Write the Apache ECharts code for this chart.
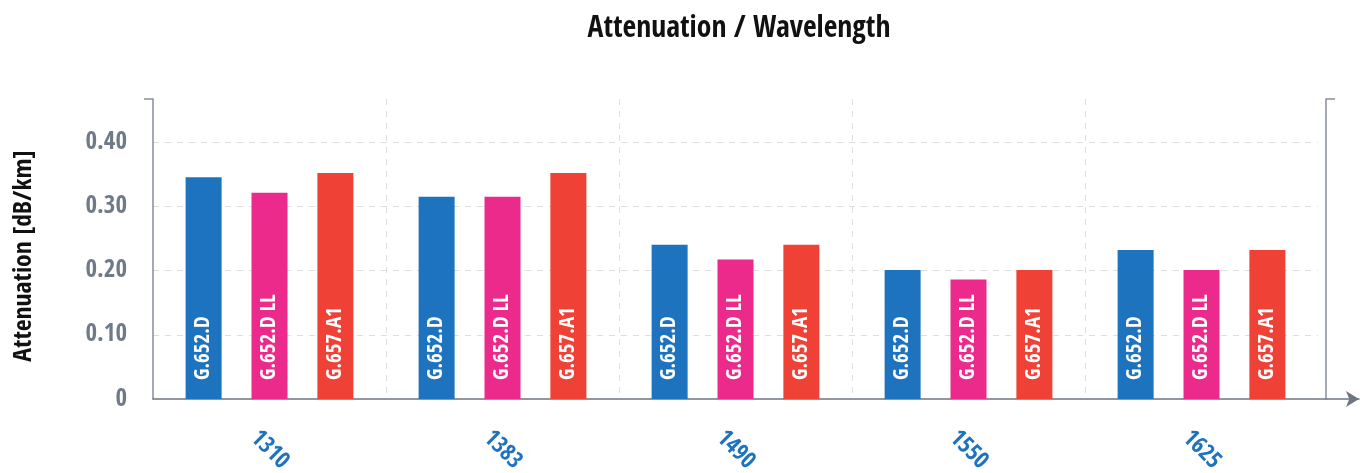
<!DOCTYPE html>
<html>
<head>
<meta charset="utf-8">
<script src="https://cdn.jsdelivr.net/npm/echarts@6/dist/echarts.min.js"></script>
<style>html,body{margin:0;padding:0;background:#fff}#c{width:1371px;height:473px}</style>
</head>
<body>
<div id="c"></div>
<script>
var categories = ['1310', '1383', '1490', '1550', '1625'];
var seriesNames = ['G.652.D', 'G.652.D LL', 'G.657.A1'];
var g652d = [0.345, 0.315, 0.240, 0.201, 0.232];
var g652dll = [0.321, 0.315, 0.217, 0.186, 0.201];
var g657a1 = [0.352, 0.352, 0.240, 0.201, 0.232];
var yTicks = [0, 0.1, 0.2, 0.3, 0.4];
var yMax = 0.467;

var FONT = "'Open Sans Condensed', 'DejaVu Sans Condensed', sans-serif";
var colors = ['#1e73be', '#ec2a8b', '#ef4136'];
var seriesData = [g652d, g652dll, g657a1];
var axisGray = '#868e97';
var dash = {type: [6, 6], color: '#dedede', width: 1};

var chart = echarts.init(document.getElementById('c'));
chart.setOption({
  animation: false,
  title: {
    text: 'Attenuation / Wavelength',
    left: 734, top: 9, textAlign: 'center',
    textStyle: {fontFamily: FONT, fontWeight: 'bold', fontSize: 29.6, color: '#111'}
  },
  grid: [
    {left: 153, right: 53, top: 99, bottom: 74, outerBoundsMode: 'none'},
    {left: 153, right: 12, top: 99, bottom: 74, outerBoundsMode: 'none'}
  ],
  xAxis: [
    {
      type: 'category', gridIndex: 0, data: categories, boundaryGap: true,
      axisLine: {show: false},
      axisTick: {show: false},
      splitLine: {show: true, showMinLine: false, showMaxLine: false, interval: 0, lineStyle: dash},
      axisLabel: {rotate: -45, align: 'center', verticalAlign: 'middle', margin: 51,
        fontFamily: FONT, fontWeight: 'bold', fontSize: 23.5, color: '#1e73be', interval: 0}
    },
    {
      type: 'value', gridIndex: 1, min: 0, max: 1,
      axisLine: {show: true, symbol: ['none', 'arrow'], symbolSize: [12, 13],
        lineStyle: {color: '#6c7580', width: 1.5}},
      axisTick: {show: false}, axisLabel: {show: false}, splitLine: {show: false}
    }
  ],
  yAxis: [
    {
      type: 'value', gridIndex: 0, position: 'left', min: 0, max: yMax, interval: 0.1,
      name: 'Attenuation [dB/km]', nameLocation: 'middle', nameGap: 116, nameRotate: 90,
      nameTextStyle: {fontFamily: FONT, fontWeight: 'bold', fontSize: 25.7, color: '#111', padding: [0, 14, 0, 0]},
      axisLine: {show: true, lineStyle: {color: axisGray, width: 1.5}},
      axisTick: {show: false},
      splitLine: {show: true, showMaxLine: false, showMinLine: false, lineStyle: dash},
      axisLabel: {customValues: yTicks, margin: 26, padding: [4, 0, 0, 0], fontFamily: FONT, fontWeight: 'bold', fontSize: 25, color: '#6e7a87',
        formatter: function (v) { return v === 0 ? '0' : v.toFixed(2); }}
    },
    {
      type: 'value', gridIndex: 0, position: 'left', min: 0, max: yMax,
      axisLine: {show: false},
      axisTick: {show: true, length: 9, customValues: [yMax], lineStyle: {color: axisGray, width: 1.5}},
      splitLine: {show: false}, axisLabel: {show: false}
    },
    {
      type: 'value', gridIndex: 0, position: 'right', offset: 8, min: 0, max: yMax,
      axisLine: {show: true, lineStyle: {color: axisGray, width: 1.5}},
      axisTick: {show: true, length: 9, customValues: [yMax], lineStyle: {color: axisGray, width: 1.5}},
      splitLine: {show: false}, axisLabel: {show: false}
    },
    {type: 'value', gridIndex: 1, show: false, min: 0, max: 1}
  ],
  series: seriesNames.map(function (name, i) {
    return {
      name: name, type: 'bar', xAxisIndex: 0, yAxisIndex: 0,
      data: seriesData[i], barWidth: 36, barGap: '83%',
      itemStyle: {color: colors[i]},
      label: {show: true, position: 'insideBottom', distance: 19, rotate: 90,
        align: 'left', verticalAlign: 'middle', formatter: name,
        fontFamily: FONT, fontWeight: 'bold', fontSize: 21, color: '#fff'}
    };
  })
});
</script>
</body>
</html>
